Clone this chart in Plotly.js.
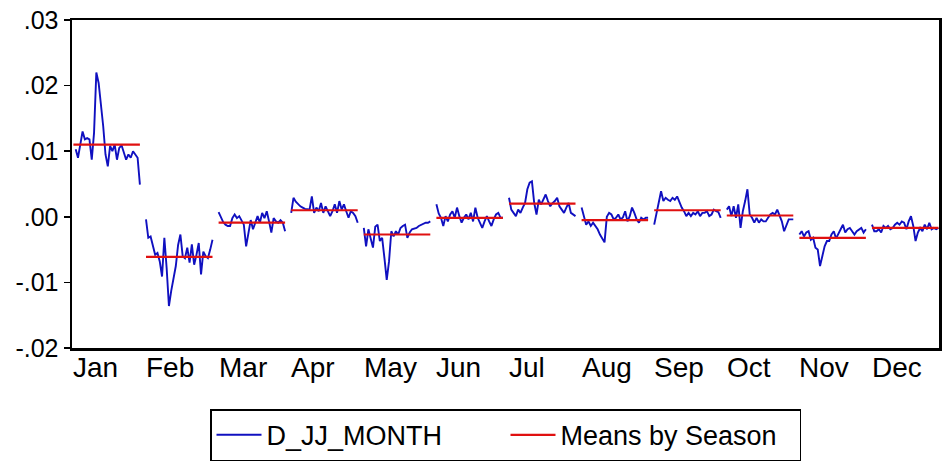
<!DOCTYPE html>
<html><head><meta charset="utf-8">
<script src="https://cdn.plot.ly/plotly-3.0.1.min.js"></script>
<style>html,body{margin:0;padding:0;background:#fff}</style>
</head><body>
<div id="chart" style="width:942px;height:464px"></div>
<script>
const months = ["Jan","Feb","Mar","Apr","May","Jun","Jul","Aug","Sep","Oct","Nov","Dec"];
const yTickVals = [-0.02,-0.01,0,0.01,0.02,0.03];
const yTickText = ["-.02","-.01",".00",".01",".02",".03"];

// D_JJ_MONTH values by season (Jan lacks the first year because of differencing)
const janVals = [null,0.0103,0.0090,0.0110,0.0130,0.0118,0.0120,0.0118,0.0087,0.0128,0.0220,0.0204,0.0175,0.0138,0.0095,0.0077,0.0108,0.0100,0.0110,0.0087,0.0105,0.0109,0.0098,0.0087,0.0095,0.0090,0.0100,0.0095,0.0090,0.0049];
const febVals = [-0.0004,-0.0032,-0.0030,-0.0045,-0.0058,-0.0055,-0.0068,-0.0091,-0.0032,-0.0078,-0.0136,-0.0113,-0.0095,-0.0075,-0.0043,-0.0027,-0.0060,-0.0063,-0.0047,-0.0070,-0.0042,-0.0073,-0.0058,-0.0040,-0.0088,-0.0053,-0.0060,-0.0063,-0.0050,-0.0035];
const marVals = [0.0007,-0.00015,-0.0008,-0.0012,-0.0014,-0.0014,-0.0002,0.00035,-0.0002,0.0001,-0.0005,-0.0012,-0.0045,-0.0022,-0.0005,-0.0019,-0.0009,0.0001,-0.0009,0.0006,-0.0002,0.00085,-0.0007,-0.0024,-0.0002,-0.0007,-0.0009,-0.0005,-0.0009,-0.0022];
const aprVals = [0.0006,0.0029,0.0023,0.0019,0.0016,0.0014,0.0012,0.00115,0.0011,0.0031,0.0006,0.0014,0.00085,0.0021,0.0006,0.0016,0.00085,0.0001,0.00085,0.0019,0.0006,0.0024,0.0011,0.0019,0.00085,-0.00015,0.00085,0.0006,0.0001,-0.0009];
const mayVals = [-0.0017,-0.0045,-0.0019,-0.0032,-0.0047,-0.0015,-0.0012,-0.0037,-0.0032,-0.0063,-0.0096,-0.0068,-0.0022,-0.0030,-0.0022,-0.0027,-0.0017,-0.0014,-0.0012,-0.0032,-0.0024,-0.0019,-0.0018,-0.0017,-0.0014,-0.0012,-0.0010,-0.0009,-0.0009,-0.0007];
const junVals = [0.0019,0.0005,-0.00015,-0.0014,0.0001,-0.0007,0.00035,0.00085,-0.00015,0.0014,0.0001,-0.0009,-0.00015,0.00035,-0.0004,0.0006,-0.0007,0.0014,-0.00015,-0.0009,-0.0017,-0.0007,0.0001,-0.0007,-0.0014,-0.0004,0.00035,0.0006,-0.00015,-0.00015];
const julVals = [0.0029,0.0011,0.0006,0.0001,0.0011,0.0006,0.0014,0.0021,0.0042,0.0052,0.0054,0.0021,0.00035,0.0026,0.0019,0.0026,0.0034,0.0024,0.0016,0.0021,0.0024,0.0029,0.0016,0.0011,0.0006,0.0014,0.0021,0.0006,0.00035,0.0001];
const augVals = [0.0014,-0.00015,-0.0012,-0.0007,-0.0014,-0.0009,-0.0014,-0.0019,-0.0027,-0.0032,-0.0039,0.0000,0.0006,0.00035,-0.0004,-0.00015,0.00035,-0.0004,-0.0001,0.00085,-0.0007,0.0001,0.0014,0.0006,-0.0004,-0.0009,-0.00015,-0.0004,-0.00015,-0.00015];
const sepVals = [-0.0012,0.00035,0.0019,0.0039,0.0024,0.0029,0.0026,0.0024,0.0029,0.0026,0.0031,0.0021,0.0014,0.00085,0.0001,0.0006,0.0001,0.0006,0.00035,0.00085,0.0001,0.0006,0.0006,0.00085,0.0001,0.00035,0.0011,0.00085,0.0007,-0.00015];
const octVals = [0.0011,0.0016,0.0001,0.0016,-0.00015,0.0019,-0.0017,0.00085,0.0024,0.0042,0.00035,-0.00015,-0.0009,-0.00015,-0.0009,-0.0004,-0.0007,-0.0007,-0.00015,0.00035,0.0006,0.00035,0.0011,0.0001,-0.0007,-0.0022,-0.0012,-0.0004,-0.0004,-0.0004];
const novVals = [-0.0027,-0.0022,-0.0030,-0.0024,-0.0022,-0.0035,-0.0032,-0.0047,-0.0050,-0.0075,-0.0060,-0.0045,-0.0037,-0.0037,-0.0027,-0.0022,-0.0033,-0.0027,-0.0019,-0.0012,-0.0024,-0.0019,-0.0017,-0.0022,-0.0027,-0.0022,-0.0019,-0.0017,-0.0024,-0.0019];
const decVals = [-0.0012,-0.0022,-0.0022,-0.0019,-0.0024,-0.0014,-0.0017,-0.0014,-0.0019,-0.0017,-0.0012,-0.0009,-0.0012,-0.0007,-0.0009,-0.0019,-0.0007,0.0001,-0.0014,-0.0037,-0.0024,-0.0017,-0.0022,-0.0012,-0.0019,-0.0009,-0.0019,-0.0017,-0.0019,-0.0017];
const seasonMeans = [0.0110,-0.0061,-0.0009,0.0010,-0.0027,-0.00015,0.0020,-0.0005,0.0010,0.0002,-0.0032,-0.0017];

const seasonData = [janVals,febVals,marVals,aprVals,mayVals,junVals,julVals,augVals,sepVals,octVals,novVals,decVals];

const SPAN = 0.916; // fraction of each season slot covered by its years
const bx = [], by = [], rx = [], ry = [];
seasonData.forEach((vals, m) => {
  const n = vals.length;
  vals.forEach((v, i) => { bx.push(m + SPAN * i / (n - 1)); by.push(v); });
  bx.push(null); by.push(null);
  rx.push(m, m + SPAN, null);
  ry.push(seasonMeans[m], seasonMeans[m], null);
});

const font = "Liberation Sans, Arial, sans-serif";
const traces = [
  {x: bx, y: by, type: "scatter", mode: "lines", name: "D_JJ_MONTH",
   line: {color: "#1010c0", width: 1.9}, connectgaps: false},
  {x: rx, y: ry, type: "scatter", mode: "lines", name: "Means by Season",
   line: {color: "#e01010", width: 2.2}, connectgaps: false}
];

const annotations = months.map((mName, m) => ({
  x: m, xref: "x", xanchor: "left", y: 0, yref: "paper", yanchor: "top",
  yshift: -2, xshift: -2, text: mName, showarrow: false,
  font: {family: font, size: 28, color: "#000"}
}));

const layout = {
  width: 942, height: 464,
  margin: {l: 72, r: 3, t: 20, b: 116},
  paper_bgcolor: "#fff", plot_bgcolor: "#fff",
  showlegend: true,
  legend: {orientation: "h", x: 0.5, xanchor: "center", yref: "container", y: 0.118, yanchor: "top",
    bordercolor: "#000", borderwidth: 1.5, font: {family: font, size: 27, color: "#000"},
    itemwidth: 45, entrywidth: 234, tracegroupgap: 0},
  xaxis: {range: [-0.0193, 11.923], showgrid: false, zeroline: false,
    showticklabels: false, ticks: "", showline: true, linecolor: "#000", linewidth: 2.5, mirror: true},
  yaxis: {range: [-0.02, 0.03], tickvals: yTickVals, ticktext: yTickText,
    showgrid: false, zeroline: false, ticks: "outside", ticklen: 6, tickwidth: 1.5, tickcolor: "#000",
    showline: true, linecolor: "#000", linewidth: 2.5, mirror: true,
    tickfont: {family: font, size: 25, color: "#000"}},
  annotations: annotations
};

Plotly.newPlot("chart", traces, layout, {displayModeBar: false, staticPlot: true});
</script>
</body></html>
